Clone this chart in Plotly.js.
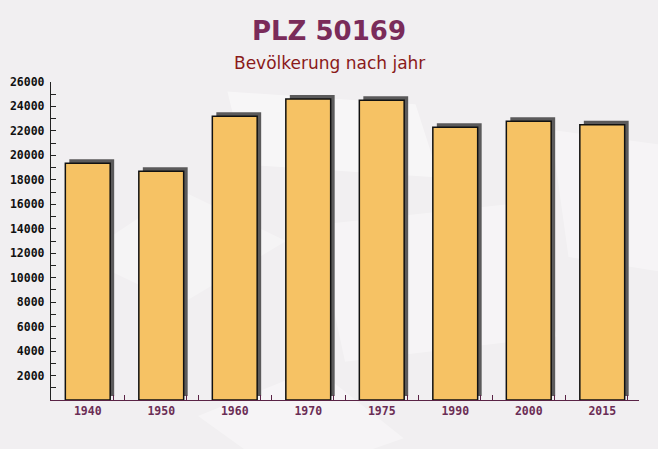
<!DOCTYPE html>
<html>
<head>
<meta charset="utf-8">
<script src="https://cdn.plot.ly/plotly-3.0.1.min.js"></script>
<style>html,body{margin:0;padding:0;background:#f1eff1;}#chart{width:658px;height:449px;}</style>
</head>
<body>
<div id="chart"></div>
<script>
// Data
const years = ["1940", "1950", "1960", "1970", "1975", "1990", "2000", "2015"];
const population = [19350, 18700, 23200, 24600, 24500, 22300, 22800, 22500];
const yTickValues = [2000, 4000, 6000, 8000, 10000, 12000, 14000, 16000, 18000, 20000, 22000, 24000, 26000];
const titleText = "PLZ 50169";
const subtitleText = "Bevölkerung nach jahr";

// Style constants
const W = 658, H = 449;
const margin = {l: 51, r: 19, t: 82, b: 49};
const yMax = 26000;
const shadowPx = 4;
const plotW = W - margin.l - margin.r;
const plotH = H - margin.t - margin.b;
const n = years.length;
const dxShadow = shadowPx * n / plotW;
const dyShadow = shadowPx * yMax / plotH;
const barWidth = 0.61;

const idx = years.map((_, i) => i);
const boundaryTicks = [];
for (let i = 0; i < n; i++) { boundaryTicks.push(i + 0.5 - 0.15); boundaryTicks.push(i + 0.5); }

const shadow = {
  type: 'bar', x: idx, y: population, base: 0,
  width: barWidth, xaxis: 'x', yaxis: 'y',
  marker: {color: '#5b5a5b', line: {width: 0}},
  hoverinfo: 'skip', showlegend: false
};
const bars = {
  type: 'bar', x: idx, y: population,
  width: barWidth, xaxis: 'x2', yaxis: 'y2',
  marker: {color: '#f6c264', line: {color: '#111111', width: 1.5}},
  hoverinfo: 'skip', showlegend: false
};
const tickHolder = {
  type: 'scatter', mode: 'markers', x: [], y: [], xaxis: 'x3', yaxis: 'y2',
  hoverinfo: 'skip', showlegend: false
};
const tickFont = {family: '"DejaVu Sans Mono", monospace', size: 11.5, weight: 'bold'};
const hiddenAxis = {showline: false, showticklabels: false, ticks: '', showgrid: false, zeroline: false, fixedrange: true, autorange: false};

const layout = {
  width: W, height: H,
  margin: margin,
  paper_bgcolor: '#f1eff1',
  plot_bgcolor: 'rgba(0,0,0,0)',
  barmode: 'overlay',
  showlegend: false,
  title: {
    text: titleText, x: 0.5, xanchor: 'center', y: 1 - 31 / H, yref: 'container', yanchor: 'middle',
    font: {family: '"DejaVu Sans", Verdana, sans-serif', size: 26, weight: 'bold', color: '#7a2b5a'}
  },
  annotations: [{
    text: subtitleText, xref: 'paper', yref: 'paper', x: (W / 2 - margin.l) / plotW, y: (H - 63 - margin.b) / plotH,
    xanchor: 'center', yanchor: 'middle', showarrow: false,
    font: {family: '"DejaVu Sans", Verdana, sans-serif', size: 17, color: '#8a1a1a'}
  }],
  xaxis: Object.assign({range: [-0.5 - dxShadow, n - 0.5 - dxShadow]}, hiddenAxis),
  yaxis: Object.assign({range: [-dyShadow, yMax - dyShadow]}, hiddenAxis),
  xaxis2: {
    overlaying: 'x', anchor: 'y2', range: [-0.5, n - 0.5], autorange: false,
    tickmode: 'array', tickvals: idx, ticktext: years, ticks: '',
    showline: true, linecolor: '#5a2346', linewidth: 1.2,
    showgrid: false, zeroline: false,
    tickfont: Object.assign({color: '#6b2d55'}, tickFont)
  },
  xaxis3: {
    overlaying: 'x', anchor: 'y2', range: [-0.5, n - 0.5], autorange: false,
    tickmode: 'array', tickvals: boundaryTicks, ticks: 'inside', ticklen: 5,
    tickcolor: '#5a2346', tickwidth: 1, showticklabels: false,
    showline: false, showgrid: false, zeroline: false
  },
  yaxis2: {
    overlaying: 'y', anchor: 'x2', range: [0, yMax], autorange: false,
    tickmode: 'array', tickvals: yTickValues, tickformat: 'd',
    ticks: 'inside', ticklen: 5, tickcolor: '#222222', tickwidth: 1,
    minor: {dtick: 1000, tick0: 0, ticks: 'inside', ticklen: 5, tickcolor: '#222222', showgrid: false},
    showline: true, linecolor: '#222222', linewidth: 1.2,
    showgrid: false, zeroline: false, ticklabelstandoff: 3,
    tickfont: Object.assign({color: '#111111'}, tickFont)
  },
  shapes: [
    {type: 'path', xref: 'paper', yref: 'paper', path: 'M 0.30 0.97 L 0.62 0.93 L 0.66 0.70 L 0.33 0.74 Z', fillcolor: 'rgba(255,255,255,0.45)', line: {width: 0}, layer: 'below'},
    {type: 'path', xref: 'paper', yref: 'paper', path: 'M 0.45 0.55 L 0.80 0.62 L 0.86 0.20 L 0.50 0.12 Z', fillcolor: 'rgba(255,255,255,0.35)', line: {width: 0}, layer: 'below'},
    {type: 'path', xref: 'paper', yref: 'paper', path: 'M 0.05 0.45 L 0.22 0.30 L 0.40 0.50 L 0.22 0.66 Z', fillcolor: 'rgba(255,255,255,0.30)', line: {width: 0}, layer: 'below'},
    {type: 'path', xref: 'paper', yref: 'paper', path: 'M 0.85 0.85 L 1.05 0.80 L 1.05 0.40 L 0.88 0.45 Z', fillcolor: 'rgba(255,255,255,0.35)', line: {width: 0}, layer: 'below'},
    {type: 'path', xref: 'paper', yref: 'paper', path: 'M 0.25 -0.05 L 0.45 0.10 L 0.60 -0.12 L 0.40 -0.25 Z', fillcolor: 'rgba(255,255,255,0.35)', line: {width: 0}, layer: 'below'}
  ]
};

Plotly.newPlot('chart', [shadow, bars, tickHolder], layout, {displayModeBar: false, staticPlot: true});
</script>
</body>
</html>
